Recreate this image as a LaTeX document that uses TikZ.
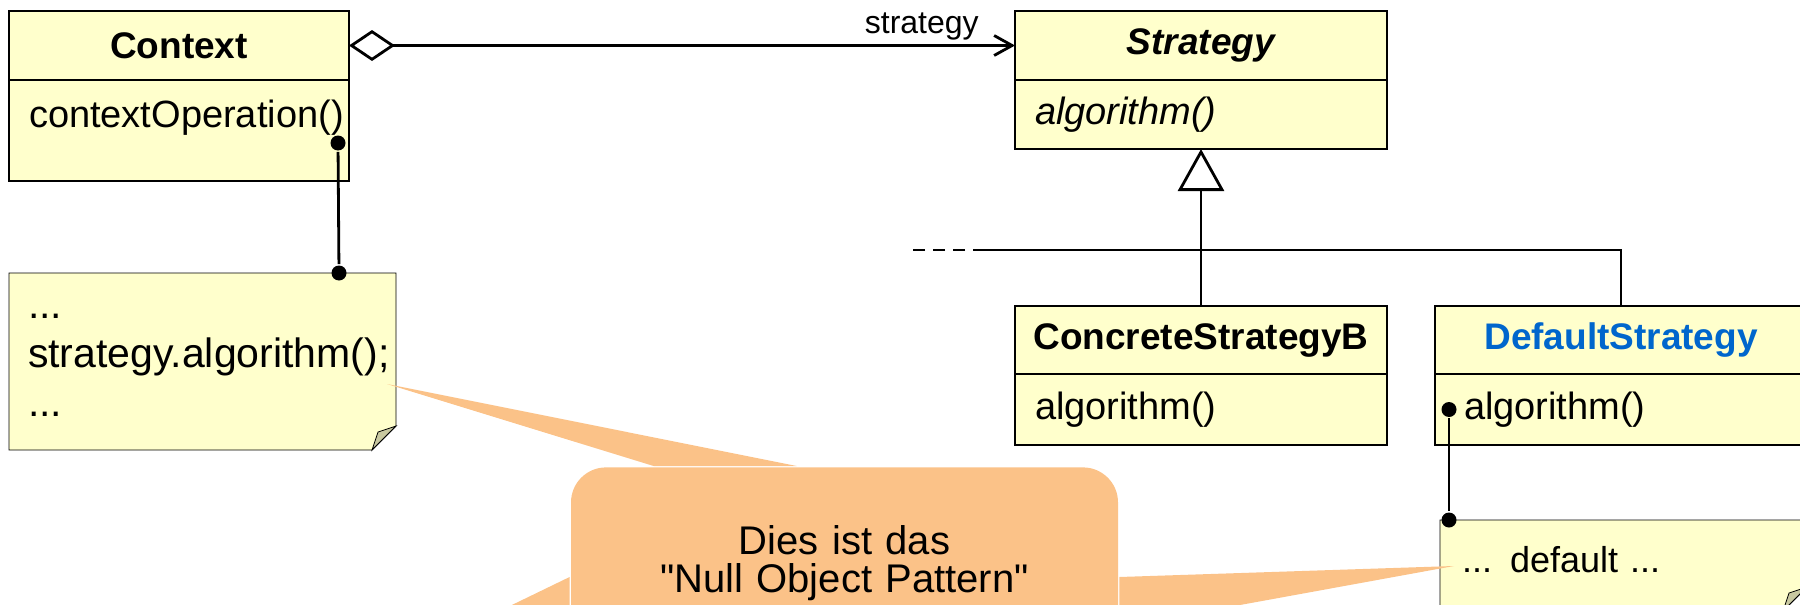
\documentclass[tikz,border=0pt]{standalone}
\usepackage{fontspec}
\setmainfont{Liberation Sans}[Ligatures=TeXOff]
\usetikzlibrary{arrows.meta,positioning,backgrounds}

\definecolor{classfill}{HTML}{FFFFCC}
\definecolor{foldfill}{HTML}{C8C8A0}
\definecolor{bubblefill}{HTML}{FBC288}
\definecolor{nameblue}{HTML}{0066CC}

% dog-eared outline behind a note node
\newcommand\noteoutline[1]{%
  \begin{scope}[on background layer]
    \draw[fill=classfill] (#1.north west) -- (#1.north east) -- ([yshift=12pt]#1.south east)
      -- ([xshift=-12pt]#1.south east) -- (#1.south west) -- cycle;
    \draw[fill=foldfill] ([yshift=12pt]#1.south east) -- ([xshift=-12pt]#1.south east)
      -- ([xshift=-9pt,yshift=9pt]#1.south east) -- cycle;
  \end{scope}}

\begin{document}
\begin{tikzpicture}[
        x=0.5pt, y=-0.5pt,
        line width=1.4pt,
    classhead/.style={
        rectangle,
        draw=black,
        fill=classfill,
        outer sep=0pt,
        minimum width=186pt,
        minimum height=34.5pt,
        font=\fontsize{18.5}{22}\selectfont\bfseries},
    classbody/.style={
        rectangle,
        draw=black,
        fill=classfill,
        outer sep=0pt,
        inner xsep=10pt,
        text width=166pt,
        align=left,
        minimum height=34.5pt,
        font=\fontsize{19}{22}\selectfont},
    notebox/.style={
        rectangle,
        outer sep=0pt,
        inner xsep=9.5pt,
        inner ysep=0pt,
        align=left,
        font=\fontsize{20.5}{24.5}\selectfont},
    notedot/.style={circle, fill=black, inner sep=0pt, minimum size=7.5pt},
    aggr/.style={{Diamond[open,length=23pt,width=15.5pt]}-{Straight Barb[length=9pt,width=10pt]}},
    generalize/.style={-{Triangle[open,length=21pt,width=23pt]}},
    bubble/.style={fill=bubblefill, draw=none}
    ]
    \useasboundingbox (0,0) rectangle (1800,605);
    \clip (0,0) rectangle (1800,605);

    \node[classhead, minimum width=170pt, anchor=north west] (ctx) at (9,11) {Context};
    \node[classbody, below=0pt of ctx, text width=150pt, inner ysep=0pt,
          text height=23.5pt, text depth=27pt] (ctxops) {contextOperation()};
    \node[classhead, right=333pt of ctx] (strat) {\itshape Strategy};
    \node[classbody, below=0pt of strat] (stratops) {\itshape algorithm()};
    \node[classhead, minimum height=34pt, below=78.5pt of stratops] (cstrb) {ConcreteStrategyB};
    \node[classbody, minimum height=35.5pt, below=0pt of cstrb] (cstrbops) {algorithm()};
    \node[classhead, minimum height=34pt, right=24pt of cstrb, text=nameblue] (dflt) {DefaultStrategy};
    \node[classbody, minimum height=35.5pt, below=0pt of dflt] (dfltops) {\hspace*{4.5pt}algorithm()};

    \node[notebox, text width=174.5pt, text height=22.5pt, text depth=66pt,
          below=46pt of ctxops.south west, anchor=north west] (note1)
          {...\\strategy.algorithm();\\...};
    \node[notebox, inner xsep=11pt, text width=161.5pt, text height=26pt, text depth=19.5pt,
          below=37.5pt of dfltops.south west, anchor=north west, xshift=2.5pt,
          font=\fontsize{18}{22}\selectfont] (note2)
          {... default ...};
    \noteoutline{note1}
    \noteoutline{note2}

    \draw[aggr] (ctx.east) -- node[pos=0.86, above, inner sep=2pt, font=\fontsize{16}{19}\selectfont] (role) {strategy} (strat.west);

    \draw[generalize] (cstrb.north) -- (stratops.south);
    \coordinate (more) at (985,250);
    \coordinate (moreend) at (907,250);
    \draw (dflt.north) |- (more);
    \draw[dash pattern=on 6pt off 4pt] (more) -- (moreend);

    \node[notedot] (ctxdot) at ([xshift=-5.5pt,yshift=-6.25pt]ctxops.east) {};
    \node[notedot] (n1dot) at ([xshift=-28.5pt]note1.north east) {};
    \draw (ctxdot) -- (n1dot);
    \node[notedot] (dfltdot) at ([xshift=7pt]dfltops.west) {};
    \node[notedot] (n2dot) at ([xshift=4.5pt]note2.north west) {};
    \draw (dfltdot) -- (n2dot);

    % speech bubble
    \node[bubble, rounded corners=17.5pt, minimum width=273.5pt, text width=273.5pt,
          inner xsep=0pt, inner ysep=0pt, align=center, text height=43.5pt, text depth=73.5pt,
          anchor=north, font=\fontsize{20}{19}\selectfont] (hint) at (844.5,466)
          {Dies ist das\\"Null Object Pattern"};
    \coordinate (tipnote) at (387,384);
    \coordinate (tipdflt) at (1454,566);
    \coordinate (tipaway) at (316,700);
    \fill[bubble] (tipnote) -- ([xshift=42pt]hint.north west) -- ([xshift=113.5pt]hint.north west) -- cycle;
    \fill[bubble] (tipaway) -- ([yshift=-55.5pt]hint.north west) -- ([yshift=-92pt]hint.north west) -- cycle;
    \fill[bubble] (tipdflt) -- ([yshift=-55.5pt]hint.north east) -- ([yshift=-80.5pt]hint.north east) -- cycle;
\end{tikzpicture}
\end{document}
